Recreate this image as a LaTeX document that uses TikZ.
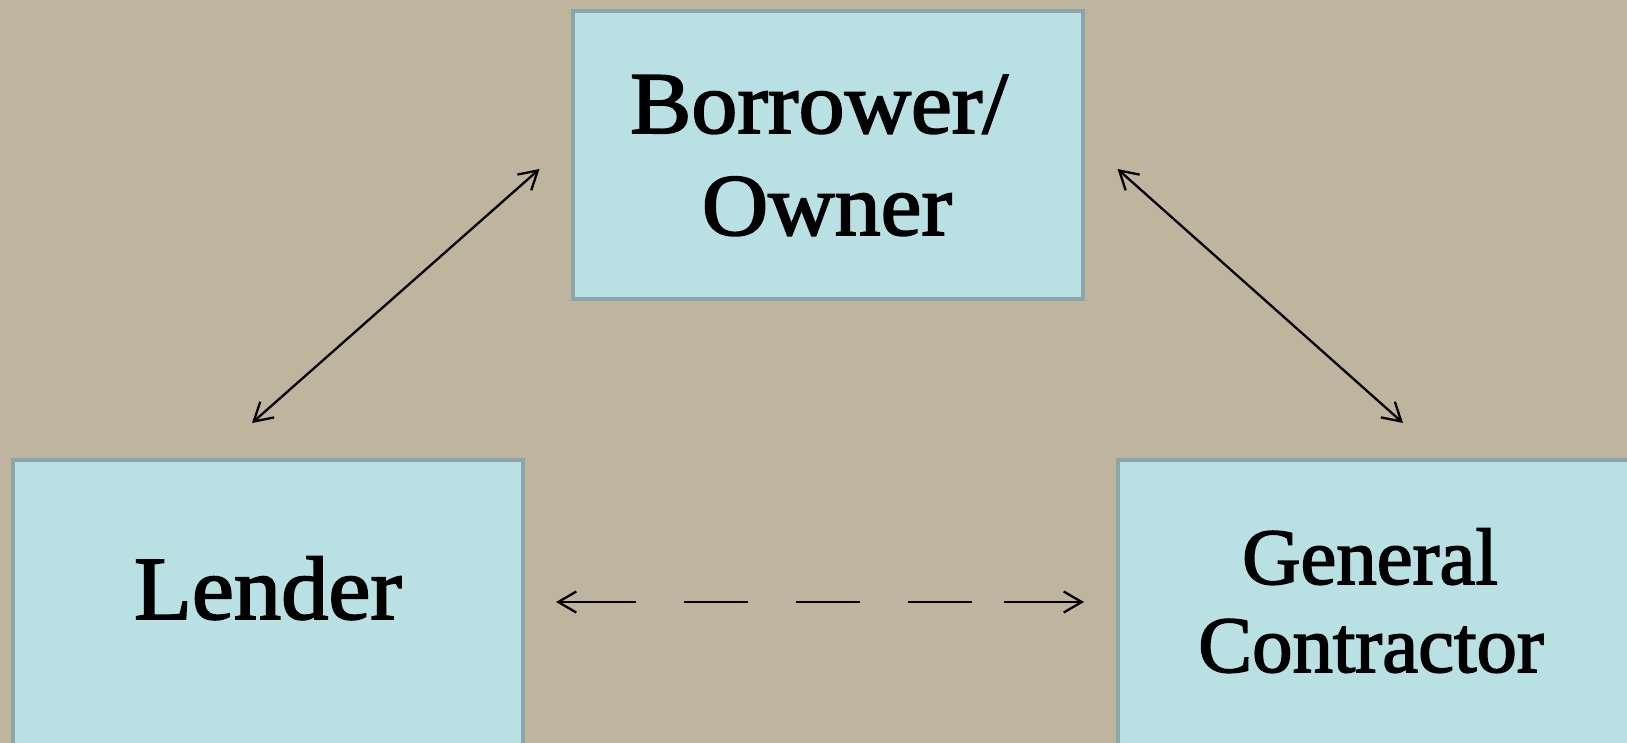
\documentclass[tikz,border=0pt]{standalone}
\usepackage{fontspec}
\setmainfont{Liberation Serif}[FakeBold=2]
\usetikzlibrary{arrows.meta}
\definecolor{bgtan}{RGB}{191,180,157}
\definecolor{boxfill}{RGB}{185,224,227}
\definecolor{boxline}{RGB}{138,166,171}
\tikzset{
  box/.style={draw=boxline, line width=4pt, fill=boxfill, rectangle, inner sep=0pt, anchor=north west},
  lbl/.style={align=center, inner sep=0pt, text=black, anchor=base, transform shape},
  barbtip/.tip={Straight Barb[length=18pt,width=21pt,line width=2.3pt]},
  link/.style={line width=2.3pt, barbtip-barbtip},
}
\begin{document}
\begin{tikzpicture}[x=1pt,y=-1pt]
\useasboundingbox (0,0) rectangle (1627,743);
\clip (0,0) rectangle (1627,743);
\fill[bgtan] (0,0) rectangle (1627,743);
% boxes
\node[box, minimum width=510pt, minimum height=288pt] (owner) at (570.5,9) {};
\node[box, minimum width=510pt, minimum height=290pt] (lender) at (11,458) {};
\node[box, minimum width=512pt, minimum height=290pt] (gc) at (1116,458) {};
% texts
\node[lbl, font=\fontsize{88}{102}\selectfont, xscale=1.045] (ownertxt1) at (819,133) {Borrower/};
\node[lbl, font=\fontsize{88}{102}\selectfont, xscale=1.045] (ownertxt2) at (827,235) {Owner};
\node[lbl, font=\fontsize{90}{104}\selectfont, xscale=1.05] (lendertxt) at (268,619) {Lender};
\node[lbl, font=\fontsize{80}{88}\selectfont, xscale=1.01] (gctxt1) at (1370,584) {General};
\node[lbl, font=\fontsize{80}{88}\selectfont, xscale=1.01] (gctxt2) at (1371,672) {Contractor};
% connector ends
\coordinate (a1) at (252,423);
\coordinate (a2) at (539.5,169);
\coordinate (b1) at (1117.5,169);
\coordinate (b2) at (1403,423);
\coordinate (c1) at (556,602);
\coordinate (c2) at (1084,602);
\draw[link] (a1) -- (a2);
\draw[link] (b1) -- (b2);
\draw[link, dash pattern=on 77pt off 48pt on 64pt off 48pt on 64pt off 48pt on 64pt off 32pt on 100pt] (c1) -- (c2);
\end{tikzpicture}
\end{document}
